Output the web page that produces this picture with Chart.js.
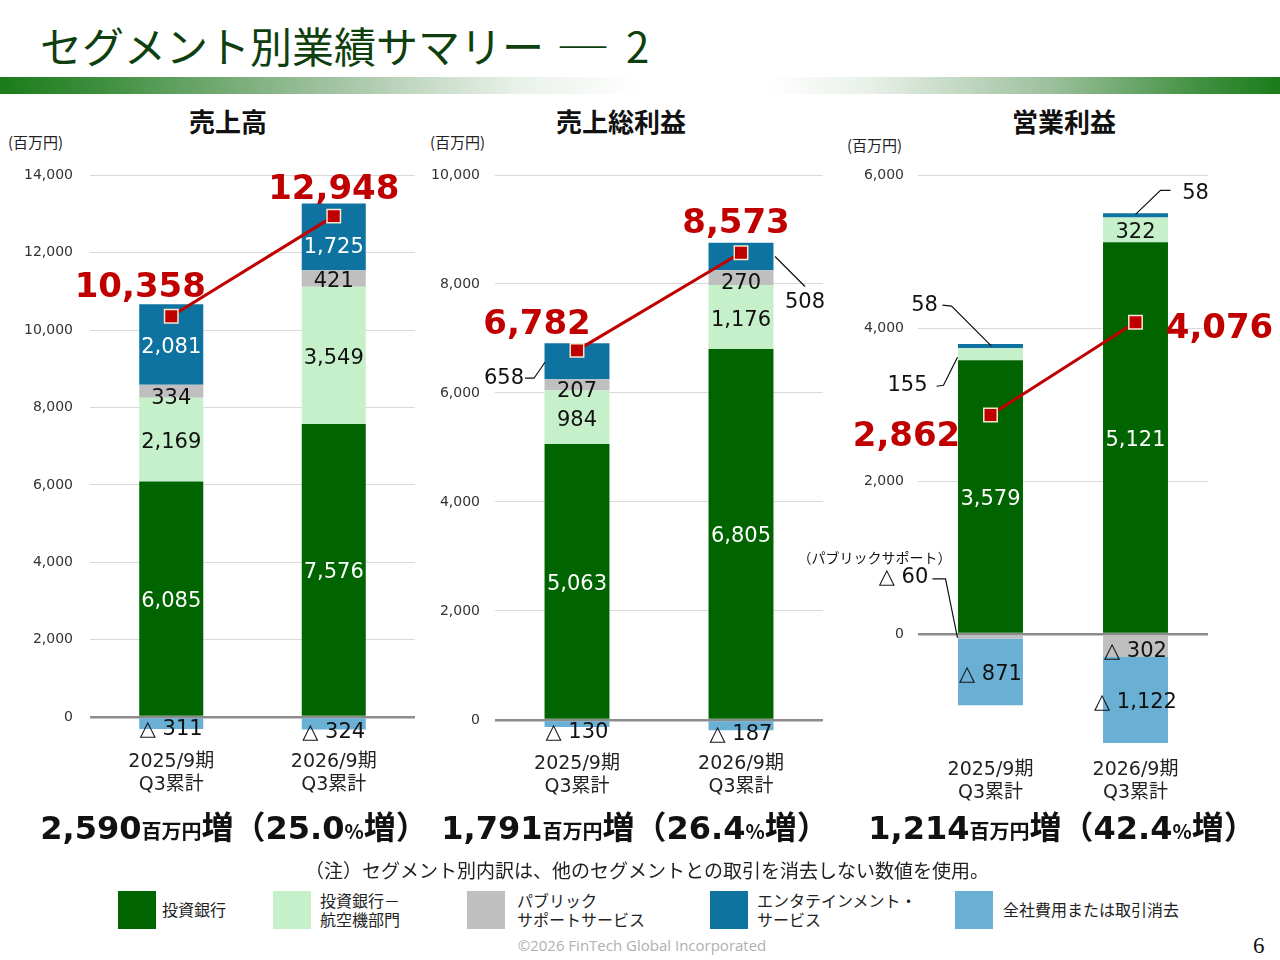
<!DOCTYPE html>
<html>
<head>
<meta charset="utf-8">
<script src="https://cdn.jsdelivr.net/npm/chart.js@4/dist/chart.umd.min.js"></script>
<style>
  body { margin: 0; background: #fff; }
  #slide { position: relative; width: 1280px; height: 960px; overflow: hidden; font-family: "Noto Sans CJK JP", sans-serif; color: #111; }
  .abs { position: absolute; white-space: nowrap; }
  .title { left: 40px; top: 22px; font-size: 42px; line-height: 46px; color: #0f3f0f; }
  .title .dash { display: inline-block; transform: scaleX(1.3); margin: 0 22px 0 18px; }
  .band { left: 0; top: 77px; width: 1280px; height: 17px;
    background: linear-gradient(to right, #1a7c1a 0%, #3f8f3f 8%, #9dc09d 25%, #e8f0e8 40%, #ffffff 50%, #ffffff 60%, #e8f0e8 68%, #9dc09d 82%, #3f8f3f 94%, #1a7c1a 100%); }
  .sub { top: 104px; width: 300px; text-align: center; font-size: 26px; font-weight: 700; line-height: 34px; }
  .unit { font-size: 15px; line-height: 18px; color: #222; }
  canvas { position: absolute; }
  .sum { top: 803px; width: 420px; text-align: center; font-weight: 700; line-height: 44px; font-size: 32px; }
  .sum .num { font-family: "DejaVu Sans", sans-serif; }
  .sum .sm { font-size: 20px; }
  .note { left: 0; width: 1294px; text-align: center; top: 857px; font-size: 19px; line-height: 26px; color: #222; }
  .box { width: 38px; height: 38px; top: 891px; }
  .lg { font-size: 16px; line-height: 19px; color: #222; }
  .copy { left: 0; width: 1284px; text-align: center; top: 935px; font-family: "Open Sans", sans-serif; font-size: 15px; color: #b0b0b0; }
  .page { left: 1253px; top: 933px; font-family: "Liberation Serif", serif; font-size: 23px; }
</style>
</head>
<body>
<div id="slide">
  <div class="abs title">セグメント別業績サマリー<span class="dash">―</span>2</div>
  <div class="abs band"></div>

  <div class="abs sub" style="left:78px">売上高</div>
  <div class="abs sub" style="left:471px">売上総利益</div>
  <div class="abs sub" style="left:914px">営業利益</div>

  <div class="abs unit" style="left:8px; top:133px">(百万円)</div>
  <div class="abs unit" style="left:430px; top:133px">(百万円)</div>
  <div class="abs unit" style="left:847px; top:136px">(百万円)</div>

  <canvas id="c1" width="430" height="660" style="left:0; top:150px; width:430px; height:660px"></canvas>
  <canvas id="c2" width="410" height="660" style="left:430px; top:150px; width:410px; height:660px"></canvas>
  <canvas id="c3" width="490" height="660" style="left:790px; top:150px; width:490px; height:660px"></canvas>

  <div class="abs sum" style="left:24px"><span class="num">2,590</span><span class="sm">百万円</span>増（<span class="num">25.0</span><span class="sm">%</span>増）</div>
  <div class="abs sum" style="left:425px"><span class="num">1,791</span><span class="sm">百万円</span>増（<span class="num">26.4</span><span class="sm">%</span>増）</div>
  <div class="abs sum" style="left:852px"><span class="num">1,214</span><span class="sm">百万円</span>増（<span class="num">42.4</span><span class="sm">%</span>増）</div>

  <div class="abs note">（注）セグメント別内訳は、他のセグメントとの取引を消去しない数値を使用。</div>

  <div id="legend"></div>

  <div class="abs copy">©2026 FinTech Global Incorporated</div>
  <div class="abs page">6</div>
</div>

<script>
// categories
const periods = [['2025/9期', 'Q3累計'], ['2026/9期', 'Q3累計']];
const segments = ['投資銀行', '投資銀行－航空機部門', 'パブリックサポートサービス', 'エンタテインメント・サービス', '全社費用または取引消去'];

// 売上高
const salesIB = [6085, 7576];
const salesAviation = [2169, 3549];
const salesPublic = [334, 421];
const salesEnt = [2081, 1725];
const salesCorp = [-311, -324];
const salesTotal = [10358, 12948];
const salesTicks = [0, 2000, 4000, 6000, 8000, 10000, 12000, 14000];

// 売上総利益
const grossIB = [5063, 6805];
const grossAviation = [984, 1176];
const grossPublic = [207, 270];
const grossEnt = [658, 508];
const grossCorp = [-130, -187];
const grossTotal = [6782, 8573];
const grossTicks = [0, 2000, 4000, 6000, 8000, 10000];

// 営業利益
const opIB = [3579, 5121];
const opAviation = [155, 322];
const opPublic = [-60, -302];
const opEnt = [58, 58];
const opCorp = [-871, -1122];
const opTotal = [2862, 4076];
const opTicks = [0, 2000, 4000, 6000];

const RED = '#c00000';
const segColors = ['#006400', '#c5f0c9', '#bfbfbf', '#0e73a0', '#6aafd4'];
const labelColors = ['#ffffff', '#111111', '#111111', '#ffffff', '#111111'];
const FONT = '"DejaVu Sans", "Noto Sans CJK JP", sans-serif';

Chart.defaults.font.family = FONT;

const fmt = v => Math.abs(v).toLocaleString('en-US');
const fmtVal = v => (v < 0 ? '△ ' : '') + fmt(v);

// value labels in the bar segments, leader lines, big red totals
const segLabels = {
  id: 'segLabels',
  afterDatasetsDraw(chart, args, opts) {
    const ctx = chart.ctx;
    ctx.save();
    ctx.textAlign = 'center';
    ctx.textBaseline = 'middle';
    chart.data.datasets.forEach((ds, i) => {
      if (ds.type !== 'bar') return;
      chart.getDatasetMeta(i).data.forEach((bar, j) => {
        const v = ds.data[j];
        const p = bar.getProps(['x', 'y', 'base'], true);
        const cx = p.x, cy = (p.y + p.base) / 2;
        const o = (opts.place || {})[i + '-' + j] || {};
        const tx = cx + (o.dx || 0), ty = cy + (o.dy || 0) + 3;
        if (o.leader) {
          ctx.beginPath();
          ctx.strokeStyle = '#111';
          ctx.lineWidth = 1.2;
          o.leader.forEach(([a, b], k) => k ? ctx.lineTo(cx + a, cy + b) : ctx.moveTo(cx + a, cy + b));
          ctx.stroke();
        }
        ctx.fillStyle = o.color || labelColors[i];
        ctx.font = '21px ' + FONT;
        ctx.fillText(fmtVal(v), tx, ty);
        if (o.note) {
          ctx.fillStyle = '#111';
          ctx.font = '14px "Noto Sans CJK JP", sans-serif';
          ctx.fillText(o.note, tx + o.noteAt[0], ty + o.noteAt[1]);
        }
      });
    });
    const li = chart.data.datasets.findIndex(ds => ds.type === 'line');
    chart.getDatasetMeta(li).data.forEach((pt, j) => {
      const off = opts.totals[j];
      ctx.fillStyle = RED;
      ctx.font = 'bold 34px "DejaVu Sans", sans-serif';
      ctx.fillText(fmt(chart.data.datasets[li].data[j]), pt.x + off[0], pt.y + off[1] + 4);
    });
    ctx.restore();
  }
};

function buildChart(id, segData, total, ticks, look) {
  const datasets = segData.map((data, i) => ({
    type: 'bar',
    label: segments[i],
    data: data,
    backgroundColor: segColors[i],
    stack: 'seg',
    order: 1,
    barPercentage: look.barPct,
    categoryPercentage: 1
  }));
  datasets.push({
    type: 'line',
    label: '合計',
    data: total,
    stack: 'total',
    order: 0,
    borderColor: RED,
    borderWidth: 3,
    tension: 0,
    pointStyle: 'rect',
    pointRadius: 9.5,
    pointHoverRadius: 9.5,
    pointBackgroundColor: RED,
    pointBorderColor: '#f3ead0',
    pointBorderWidth: 1.5
  });

  return new Chart(document.getElementById(id), {
    data: { labels: periods, datasets: datasets },
    plugins: [segLabels],
    options: {
      responsive: false,
      animation: false,
      layout: { padding: { top: 25, right: look.padRight, bottom: 0, left: 0 } },
      plugins: {
        legend: { display: false },
        tooltip: { enabled: false },
        segLabels: { place: look.place, totals: look.totals }
      },
      scales: {
        x: {
          stacked: true,
          grid: { display: false },
          border: { display: false },
          ticks: { color: '#222', font: { size: 19, lineHeight: 1.2 }, padding: look.xPad, maxRotation: 0 },
          afterFit: s => { s.height = look.xHeight; }
        },
        y: {
          stacked: true,
          min: look.min,
          max: ticks[ticks.length - 1],
          border: { display: false },
          grid: {
            drawTicks: false,
            color: c => c.tick && c.tick.value === 0 ? '#8c8c8c' : '#d9d9d9',
            lineWidth: c => c.tick && c.tick.value === 0 ? 2.5 : 1
          },
          ticks: {
            color: '#333',
            font: { size: 14 },
            padding: look.yPad,
            callback: v => v.toLocaleString('en-US')
          },
          afterBuildTicks: s => { s.ticks = ticks.map(v => ({ value: v })); },
          afterFit: s => { s.width = look.yWidth; }
        }
      }
    }
  });
}

buildChart('c1', [salesIB, salesAviation, salesPublic, salesEnt, salesCorp], salesTotal, salesTicks, {
  min: -400, barPct: 0.394, padRight: 15, yWidth: 90, yPad: 17, xHeight: 77.5, xPad: 10,
  totals: [[-31, -32], [0, -30]],
  place: { '4-0': { dy: 3 }, '4-1': { dy: 6 }, '2-0': { dy: 4 }, '3-1': { dy: 8 } }
});

buildChart('c2', [grossIB, grossAviation, grossPublic, grossEnt, grossCorp], grossTotal, grossTicks, {
  min: -250, barPct: 0.396, padRight: 17, yWidth: 65, yPad: 15, xHeight: 76.4, xPad: 11,
  totals: [[-40, -29], [-5, -33]],
  place: {
    '4-0': { dy: 5 }, '4-1': { dy: 6 }, '1-0': { dy: 0 }, '2-0': { dy: 4 }, '2-1': { dy: 3 },
    '3-0': { dx: -73, dy: 14, color: '#111', leader: [[-52, 17], [-43, 17], [-32, 1]] },
    '3-1': { dx: 64, dy: 43, color: '#111', leader: [[34, 0], [64, 30]] }
  }
});

buildChart('c3', [opIB, opAviation, opPublic, opEnt, opCorp], opTotal, opTicks, {
  min: -1500, barPct: 0.448, padRight: 72, yWidth: 128, yPad: 14, xHeight: 61.25, xPad: 2,
  totals: [[-84, 18], [84, 3]],
  place: {
    '0-1': { dy: 0 },
    '1-0': { dx: -83, dy: 28, color: '#111', leader: [[-54, 32], [-47, 31], [-33, 3]] },
    '2-0': { dx: -87, dy: -62, color: '#111', leader: [[-58, -58], [-45, -58], [-33, 1]],
             note: '（パブリックサポート）', noteAt: [-29, -20] },
    '2-1': { dy: 2 },
    '3-0': { dx: -66, dy: -44, color: '#111', leader: [[-48, -41], [-39, -40], [1, 0]] },
    '3-1': { dx: 60, dy: -25, color: '#111', leader: [[35, -25], [25, -25], [0, -1]] }
  }
});

// shared legend
const legendPos = [
  { box: 118, text: 162, lines: ['投資銀行'] },
  { box: 273, text: 320, lines: ['投資銀行－', '航空機部門'] },
  { box: 467, text: 517, lines: ['パブリック', 'サポートサービス'] },
  { box: 710, text: 757, lines: ['エンタテインメント・', 'サービス'] },
  { box: 955, text: 1003, lines: ['全社費用または取引消去'] }
];
const legend = document.getElementById('legend');
legendPos.forEach((p, i) => {
  const b = document.createElement('div');
  b.className = 'abs box';
  b.style.left = p.box + 'px';
  b.style.background = segColors[i];
  legend.appendChild(b);
  const t = document.createElement('div');
  t.className = 'abs lg';
  t.style.left = p.text + 'px';
  t.style.top = (p.lines.length > 1 ? 891 : 900) + 'px';
  t.innerHTML = p.lines.join('<br>');
  legend.appendChild(t);
});
</script>
</body>
</html>
